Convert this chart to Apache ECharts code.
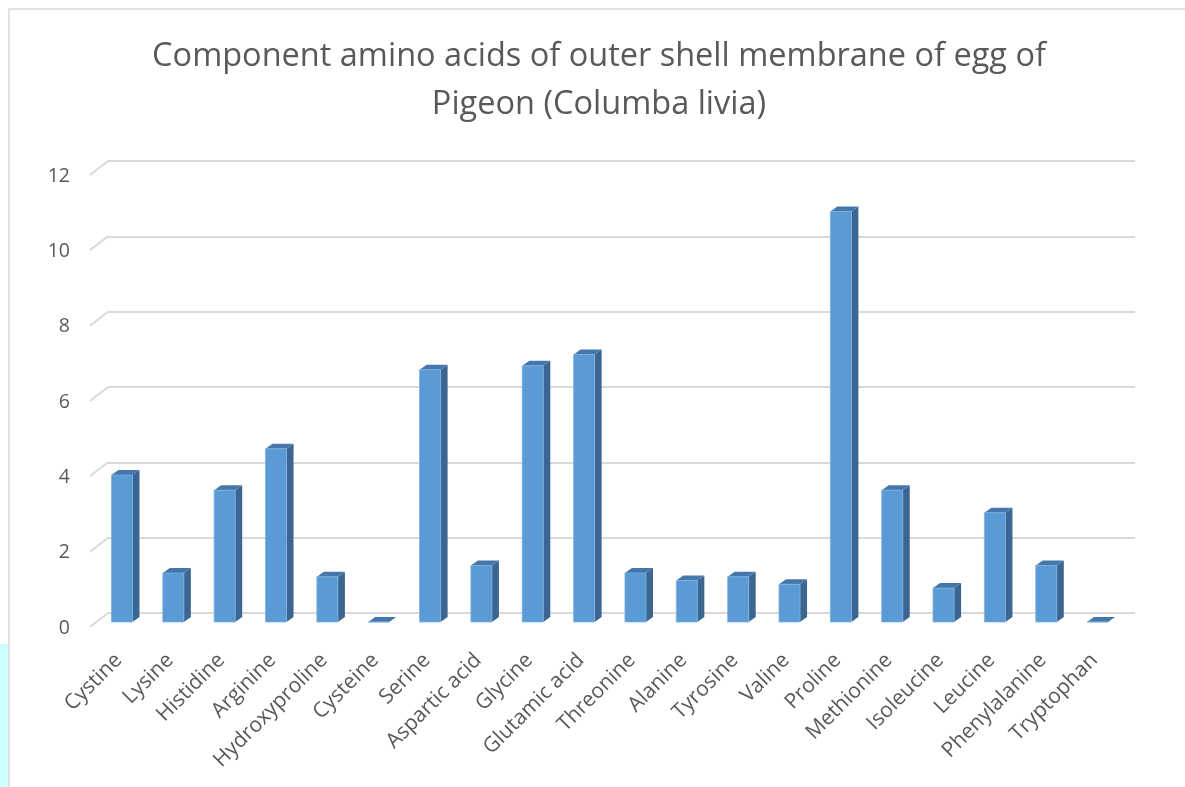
<!DOCTYPE html>
<html>
<head>
<meta charset="utf-8">
<style>
  html, body { margin: 0; padding: 0; background: #ffffff; }
  #strip { position: absolute; left: 0; top: 644px; width: 8px; height: 143px; background: #ccffff; }
  #chart { position: absolute; left: 0; top: 0; width: 1185px; height: 787px; }
</style>
<script src="https://cdn.jsdelivr.net/npm/echarts@6/dist/echarts.min.js"></script>
</head>
<body>
<div id="strip"></div>
<div id="chart"></div>
<script>
// Amino acid composition of the outer shell membrane
const categories = [
  'Cystine', 'Lysine', 'Histidine', 'Arginine', 'Hydroxyproline', 'Cysteine',
  'Serine', 'Aspartic acid', 'Glycine', 'Glutamic acid', 'Threonine', 'Alanine',
  'Tyrosine', 'Valine', 'Proline', 'Methionine', 'Isoleucine', 'Leucine',
  'Phenylalanine', 'Tryptophan'
];
const values = [
  3.9, 1.3, 3.5, 4.6, 1.2, 0,
  6.7, 1.5, 6.8, 7.1, 1.3, 1.1,
  1.2, 1.0, 10.9, 3.5, 0.9, 2.9,
  1.5, 0
];
const yTicks = [0, 2, 4, 6, 8, 10, 12];
const titleLines = [
  'Component amino acids of outer shell membrane of egg of',
  'Pigeon (Columba livia)'
];

const TEXT = '#595959';
const GRID_LINE = '#d9d9d9';
const FONT = 'Open Sans';

// back wall plot area
const BACK = { left: 108, right: 50, top: 161, bottom: 174 };
// perspective offset from the back wall to the front edge of the floor
const DEPTH_X = -18, DEPTH_Y = 14;

const chart = echarts.init(document.getElementById('chart'));

chart.setOption({
  backgroundColor: 'transparent',
  animation: false,
  title: {
    text: titleLines.join('\n'),
    left: 594,
    top: 28,
    textAlign: 'center',
    textStyle: {
      fontFamily: FONT, fontSize: 32.5, fontWeight: 'normal',
      color: TEXT, lineHeight: 48
    }
  },
  graphic: [{
    type: 'rect',
    shape: { x: 9, y: 9, width: 1200, height: 800 },
    style: { fill: 'none', stroke: GRID_LINE, lineWidth: 1.5 },
    silent: true, z: -10
  }],
  grid: [
    // back wall
    { left: BACK.left, right: BACK.right, top: BACK.top, bottom: BACK.bottom },
    // front edge: value labels
    { left: BACK.left + DEPTH_X, right: BACK.right - DEPTH_X, top: BACK.top + 15, bottom: BACK.bottom - 15 },
    // front edge: category labels
    { left: BACK.left - 15, right: BACK.right + 15, top: BACK.top + DEPTH_Y, bottom: BACK.bottom - DEPTH_Y }
  ],
  xAxis: [
    {
      gridIndex: 0, type: 'category', data: categories,
      axisLine: { show: false }, axisTick: { show: false }, axisLabel: { show: false }
    },
    {
      gridIndex: 1, type: 'category', data: categories, show: false
    },
    {
      gridIndex: 2, type: 'category', data: categories,
      axisLine: { show: false }, axisTick: { show: false },
      axisLabel: {
        rotate: 45, margin: 30, interval: 0,
        fontFamily: FONT, fontSize: 21, color: TEXT
      }
    }
  ],
  yAxis: [
    {
      gridIndex: 0, type: 'value', min: 0, max: 12, interval: 2,
      axisLine: { show: false }, axisTick: { show: false }, axisLabel: { show: false },
      splitLine: { lineStyle: { color: GRID_LINE, width: 2 } }
    },
    {
      gridIndex: 1, type: 'value', min: 0, max: 12, interval: 2,
      axisLine: { show: false }, axisTick: { show: false },
      splitLine: { show: false },
      axisLabel: { margin: 20, fontFamily: FONT, fontSize: 19.5, color: TEXT }
    },
    {
      gridIndex: 2, type: 'value', min: 0, max: 12, interval: 2, show: false
    }
  ],
  series: [
    {
      // floor-side stubs of the gridlines
      type: 'custom',
      xAxisIndex: 0, yAxisIndex: 0,
      data: yTicks.map(v => [0, v]),
      silent: true,
      renderItem: function (params, api) {
        const x0 = params.coordSys.x;
        const y = api.coord([0, api.value(1)])[1];
        return {
          type: 'line',
          shape: { x1: x0, y1: y, x2: x0 + DEPTH_X, y2: y + DEPTH_Y },
          style: { stroke: GRID_LINE, lineWidth: 2 }
        };
      },
      z: 1
    },
    {
      // 3-D looking columns
      type: 'custom',
      xAxisIndex: 0, yAxisIndex: 0,
      data: values.map((v, i) => [i, v]),
      renderItem: function (params, api) {
        const i = api.value(0), v = api.value(1);
        const base = api.coord([i, 0]);
        const top = api.coord([i, v]);
        const band = api.size([1, 0])[0];
        const w = band * 0.41;
        const cx = base[0] - band * 0.228;
        const y0 = base[1] + 9;
        const y1 = top[1] + 9;
        const dx = 7, dy = -5;
        const l = cx - w / 2, r = cx + w / 2;
        return {
          type: 'group',
          children: [
            {
              type: 'polygon',
              shape: { points: [[r, y1], [r + dx, y1 + dy], [r + dx, y0 + dy], [r, y0]] },
              style: { fill: '#3b6691' }
            },
            {
              type: 'polygon',
              shape: { points: [[l, y1], [l + dx, y1 + dy], [r + dx, y1 + dy], [r, y1]] },
              style: { fill: '#4677aa' }
            },
            {
              type: 'rect',
              shape: { x: l, y: y1, width: w, height: y0 - y1 },
              style: { fill: '#5b9bd5', stroke: '#7fb0de', lineWidth: 0.8 }
            }
          ]
        };
      },
      z: 2
    }
  ]
});
</script>
</body>
</html>
